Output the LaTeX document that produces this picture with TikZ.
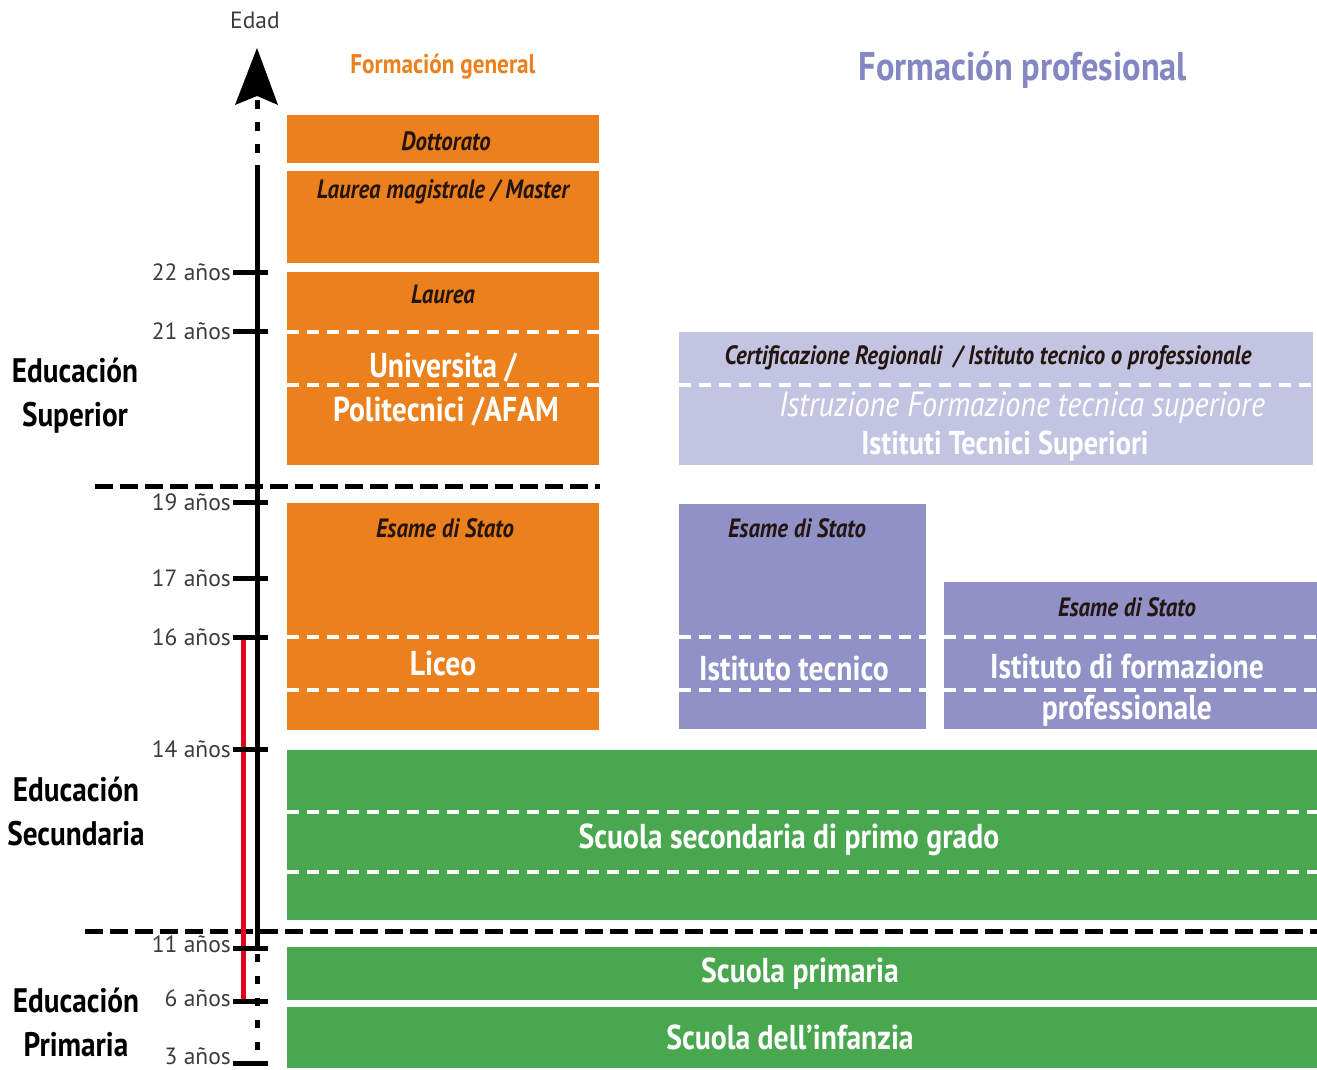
\documentclass[tikz,border=0pt]{standalone}
\usepackage{fontspec}
\setmainfont{PT Sans}[FakeStretch=0.86]
\newfontfamily\plainfont{PT Sans}
\usetikzlibrary{calc}
\definecolor{orangebox}{HTML}{EC801C}
\definecolor{greenbox}{HTML}{49A84F}
\definecolor{purplebox}{HTML}{8F91C7}
\definecolor{lightpurple}{HTML}{C2C4E2}
\definecolor{proftitle}{HTML}{8587C2}
\definecolor{darktxt}{HTML}{241510}
\definecolor{graytxt}{HTML}{3C3C3C}
\definecolor{redline}{HTML}{E0051E}
\tikzset{
  wdash/.style={white, line width=4pt, dash pattern=on 12pt off 8pt},
  bdash/.style={black, line width=5pt, dash pattern=on 18pt off 7pt},
  tick/.style={black, line width=5pt},
  yearlbl/.style={anchor=east, inner sep=0pt, text=graytxt, font=\plainfont\fontsize{23.5}{26}\selectfont},
  sectlbl/.style={align=center, inner sep=0pt, text=black, font=\bfseries\fontsize{34}{44}\selectfont},
  itlbl/.style={inner sep=0pt, text=darktxt, font=\bfseries\itshape\fontsize{26.5}{30}\selectfont},
  wlbl/.style={inner sep=0pt, text=white, font=\bfseries\fontsize{34.5}{44}\selectfont, align=center},
}
\begin{document}
\begin{tikzpicture}[x=1pt,y=-1pt]
\useasboundingbox (0,0) rectangle (1317,1070);
% boxes
\fill[orangebox] (287,115) rectangle (599,163);
\fill[orangebox] (287,171) rectangle (599,263);
\fill[orangebox] (287,272) rectangle (599,465);
\fill[orangebox] (287,503) rectangle (599,730);
\fill[lightpurple] (679,332) rectangle (1313,465);
\fill[purplebox] (679,504) rectangle (926,729);
\fill[purplebox] (944,582) rectangle (1317,729);
\fill[greenbox] (287,750) rectangle (1317,920);
\fill[greenbox] (287,947) rectangle (1317,1000);
\fill[greenbox] (287,1007) rectangle (1317,1068);
% white dashed separators
\draw[wdash] (287,332) -- (599,332);
\draw[wdash] (287,385) -- (599,385);
\draw[wdash] (287,637) -- (599,637);
\draw[wdash] (287,690) -- (599,690);
\draw[wdash] (679,385) -- (1313,385);
\draw[wdash] (679,637) -- (926,637);
\draw[wdash] (679,690) -- (926,690);
\draw[wdash] (944,637) -- (1317,637);
\draw[wdash] (944,690) -- (1317,690);
\draw[wdash] (287,812) -- (1317,812);
\draw[wdash] (287,872) -- (1317,872);
% black dashed level separators
\coordinate (s1a) at (95,486); \coordinate (s1b) at (600,486);
\coordinate (s2a) at (85,931); \coordinate (s2b) at (1317,931);
\draw[bdash] (s1a) -- (s1b);
\draw[bdash] (s2a) -- (s2b);
% axis
\coordinate (atip) at (257,48);
\coordinate (abase) at (257,96);
\coordinate (ad1) at (257,165);
\coordinate (abot) at (257,948);
\coordinate (aend) at (257,1063);
\fill[black] (atip) -- (278,105) -- (abase) -- (235,105) -- cycle;
\draw[black, line width=5pt, dash pattern=on 9pt off 13pt, dash phase=-4pt] (abase) -- (ad1);
\draw[black, line width=5pt] (ad1) -- (abot);
\draw[black, line width=5pt, dash pattern=on 8pt off 14pt, dash phase=-6pt] (abot) -- (aend);
% red line
\coordinate (r1) at (243,637); \coordinate (r2) at (243,1001);
\draw[redline, line width=5pt] (r1) -- (r2);
% ticks and labels
\foreach \yy/\ly/\lab/\nm in {272/272/22/a22, 331/331/21/a21, 502/502/19/a19, 578/578/17/a17, 637/637/16/a16, 749/749/14/a14, 948/944/11/a11, 1001/998/6/a6, 1063/1056/3/a3}{
  \draw[tick] (233,\yy) -- (268,\yy);
  \node[yearlbl] (\nm) at (231,\ly) {\lab\ años};
}
% titles
\node[inner sep=0pt, text=graytxt, font=\plainfont\fontsize{23.5}{26}\selectfont] (edad) at (255,20) {Edad};
\node[inner sep=0pt, text=orangebox, font=\bfseries\fontsize{27}{30}\selectfont] (fgen) at (443,67) {Formación general};
\node[inner sep=0pt, text=proftitle, font=\bfseries\fontsize{40}{44}\selectfont] (fprof) at (1023,70) {Formación profesional};
% section labels
\node[sectlbl] (esup) at (75,396) {Educación\\Superior};
\node[sectlbl] (esec) at (76,811) {Educación\\Secundaria};
\node[sectlbl] (epri) at (76,1022) {Educación\\Primaria};
% orange labels
\node[itlbl] (dott) at (446,141) {Dottorato};
\node[itlbl] (lmag) at (443,192) {Laurea magistrale / Master};
\node[itlbl] (laur) at (443,294) {Laurea};
\node[wlbl] (univ1) at (443,368) {Universita /};
\node[wlbl] (univ2) at (446,412) {Politecnici /AFAM};
\node[itlbl] (esl) at (445,528) {Esame di Stato};
\node[wlbl] (liceo) at (443,663) {Liceo};
% purple labels
\node[itlbl] (cert) at (988,358) {Certificazione Regionali\ \ / Istituto tecnico o professionale};
\node[inner sep=0pt, text=white, font=\itshape\fontsize{35}{40}\selectfont] (ifts) at (1022,408) {Istruzione Formazione tecnica superiore};
\node[inner sep=0pt, text=white, font=\bfseries\fontsize{33}{40}\selectfont] (its) at (1005,446) {Istituti Tecnici Superiori};
\node[itlbl] (est) at (797,528) {Esame di Stato};
\node[wlbl] (itec) at (794,668) {Istituto tecnico};
\node[itlbl] (esp) at (1127,607) {Esame di Stato};
\node[wlbl] (ifp1) at (1127,666) {Istituto di formazione};
\node[wlbl] (ifp2) at (1127,711) {professionale};
% green labels
\node[wlbl] (ssec) at (789,840) {Scuola secondaria di primo grado};
\node[wlbl] (sprim) at (800,974) {Scuola primaria};
\node[wlbl] (sinf) at (790,1037) {Scuola dell’infanzia};
\end{tikzpicture}
\end{document}
